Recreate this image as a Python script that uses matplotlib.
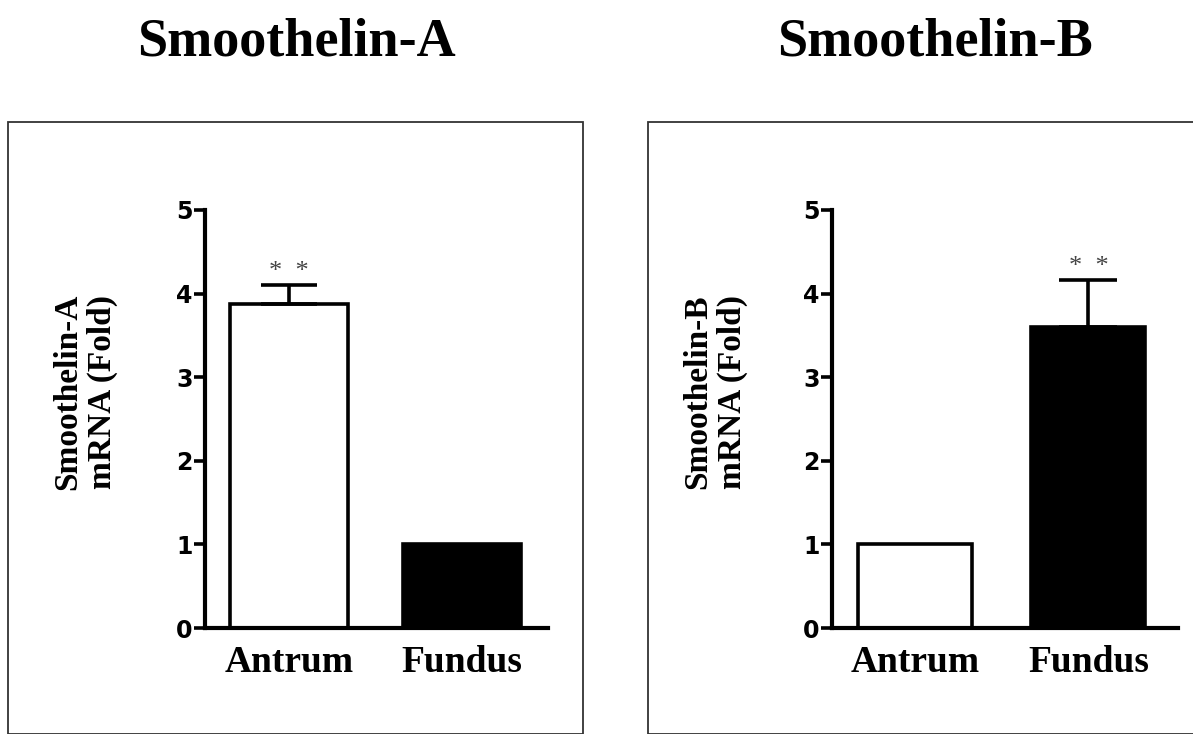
import matplotlib.pyplot as plt
from matplotlib.patches import Rectangle

groups = ['Antrum', 'Fundus']
smA_vals = [3.88, 1.0]
smA_err = [0.22, 0.0]
smB_vals = [1.0, 3.6]
smB_err = [0.0, 0.56]
bar_colors = ['white', 'black']
titles = ['Smoothelin-A', 'Smoothelin-B']
ylabels = ['Smoothelin-A\nmRNA (Fold)', 'Smoothelin-B\nmRNA (Fold)']

W, H = 1193, 734
fig = plt.figure(figsize=(W / 100, H / 100), dpi=100)
serif = 'Liberation Serif'

# outer frames (cut off at the bottom / right like the source image)
fig.add_artist(Rectangle((8 / W, 0), (583 - 8) / W, 1 - 122 / H, transform=fig.transFigure,
                         fill=False, lw=1.3, ec='#333333'))
fig.add_artist(Rectangle((648 / W, 0), (1200 - 648) / W, 1 - 122 / H, transform=fig.transFigure,
                         fill=False, lw=1.3, ec='#333333'))

panels = [
    dict(vals=smA_vals, err=smA_err, ax=(205, 548), xlim=(-0.487, 1.50), width=0.684,
         title_x=296, ylab_x=85, cap=20),
    dict(vals=smB_vals, err=smB_err, ax=(832, 1178), xlim=(-0.478, 1.516), width=0.657,
         title_x=935, ylab_x=715, cap=21),
]

for i, p in enumerate(panels):
    x0, x1 = p['ax']
    ax = fig.add_axes([x0 / W, 1 - 628 / H, (x1 - x0) / W, (628 - 210) / H])
    xs = range(len(groups))
    ax.bar(xs, p['vals'], width=p['width'], color=bar_colors, edgecolor='black', linewidth=2.6)
    for x, v, e in zip(xs, p['vals'], p['err']):
        if e > 0:
            ax.errorbar(x, v, yerr=[[0], [e]], fmt='none', ecolor='black', elinewidth=2.6,
                        capsize=p['cap'], capthick=2.6)
            ax.text(x, v + e + 0.03, '*  *', ha='center', va='bottom', fontsize=19,
                    color='#444444', family=serif)
    ax.set_xlim(*p['xlim'])
    ax.set_ylim(0, 5)
    ax.set_yticks(range(6))
    ax.set_xticks(list(xs))
    ax.set_xticklabels(groups, family=serif, fontweight='bold', fontsize=27)
    for lab in ax.get_yticklabels():
        lab.set_family('DejaVu Sans')
        lab.set_fontweight('heavy')
        lab.set_fontsize(17)
    ax.tick_params(axis='y', direction='out', length=8, width=2.6, pad=1)
    ax.tick_params(axis='x', length=0, pad=12)
    for s in ['top', 'right']:
        ax.spines[s].set_visible(False)
    for s in ['left', 'bottom']:
        ax.spines[s].set_linewidth(3)
    fig.text(p['ylab_x'] / W, 1 - 392 / H, ylabels[i], rotation=90, ha='center', va='center',
             family=serif, fontweight='bold', fontsize=24, linespacing=1.15)
    fig.text(p['title_x'] / W, 1 - 43 / H, titles[i], ha='center', va='center',
             family=serif, fontweight='bold', fontsize=39)

fig.savefig('out.png', dpi=100)
